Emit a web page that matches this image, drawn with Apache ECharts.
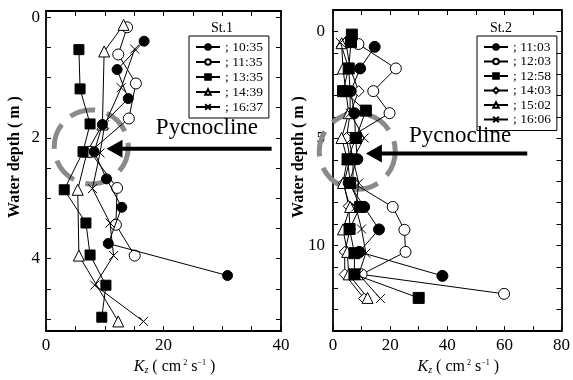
<!DOCTYPE html>
<html><head><meta charset="utf-8">
<script src="https://cdn.jsdelivr.net/npm/echarts@6/dist/echarts.min.js"></script>
<style>html,body{margin:0;padding:0;background:#fff}#c{width:573px;height:380px}</style>
</head><body><div id="c"></div>
<script>
// ---------- St.1 data (depth in m, Kz in cm2/s) ----------
const st1Names = ['10:35','11:35','13:35','14:39','16:37'];
const st1_1035_depth = [0.40,0.87,1.35,1.78,2.23,2.68,3.15,3.75,4.28];
const st1_1035_kz    = [16.7,12.1,14.0,9.6,8.2,10.3,12.9,10.6,30.9];
const st1_1135_depth = [0.17,0.62,1.10,1.68,2.23,2.83,3.44,3.95];
const st1_1135_kz    = [13.8,12.3,15.3,14.1,7.5,12.1,11.9,15.1];
const st1_1335_depth = [0.54,1.19,1.77,2.23,2.86,3.41,3.94,4.44,4.97];
const st1_1335_kz    = [5.6,5.8,7.5,6.3,3.1,6.8,7.5,10.2,9.5];
const st1_1439_depth = [0.13,0.57,1.78,2.23,2.86,3.95,5.04];
const st1_1439_kz    = [13.2,9.9,9.6,7.0,5.4,5.6,12.3];
const st1_1637_depth = [0.53,1.17,1.78,2.25,2.84,3.41,3.95,4.44,5.04];
const st1_1637_kz    = [15.1,12.8,10.0,9.2,7.9,10.9,11.5,8.3,16.6];

// ---------- St.2 data ----------
const st2Names = ['11:03','12:03','12:58','14:03','15:02','16:06'];
const st2_1103_depth = [0.72,1.73,2.79,3.82,4.98,5.97,7.08,8.20,9.25,10.30,11.42];
const st2_1103_kz    = [14.6,9.5,6.2,7.5,7.9,8.5,5.5,10.9,16.1,9.2,38.3];
const st2_1203_depth = [0.59,1.73,2.79,3.82,4.98,5.97,7.08,8.20,9.27,10.30,11.35,12.26];
const st2_1203_kz    = [8.9,22.0,14.1,19.8,5.5,7.0,7.0,20.9,25.0,25.4,10.0,59.9];
const st2_1258_depth = [0.15,0.50,1.73,2.79,3.70,4.98,5.97,7.08,8.20,9.23,10.36,11.35,12.45];
const st2_1258_kz    = [6.6,6.3,5.5,3.5,11.5,8.0,5.1,6.0,9.5,5.8,7.5,7.5,30.0];
const st2_1403_depth = [0.50,1.73,2.79,3.82,4.98,5.97,7.08,8.17,9.25,10.30,11.35,12.48];
const st2_1403_kz    = [4.5,6.0,9.0,6.0,4.7,6.0,3.8,5.5,6.0,4.1,4.1,10.9];
const st2_1502_depth = [0.55,1.73,2.79,3.82,4.98,5.97,7.08,8.20,9.25,10.30,11.35,12.45];
const st2_1502_kz    = [3.0,3.5,4.5,5.5,3.0,5.0,3.5,6.0,3.5,5.0,5.5,12.1];
const st2_1606_depth = [0.52,1.73,2.79,3.82,4.98,5.97,7.08,8.20,9.23,10.36,11.35,12.48];
const st2_1606_kz    = [2.6,5.5,6.0,6.0,10.9,7.0,9.0,8.0,10.0,11.5,9.0,16.6];

// ---------- axis ticks / labels ----------
const st1XLabels = [0,20,40];
const st1YTicks = [0,0.5,1,1.5,2,2.5,3,3.5,4,4.5,5];
const st1YLabels = [0,2,4];
const st2XLabels = [0,20,40,60,80];
const st2YLabels = [0,5,10];

const SERIF = '"Liberation Serif","DejaVu Serif",serif';
const CROSS = 'path://M0 0L10 10M10 0L0 10';

const markers = {
  filled:   {symbol:'circle',  color:'#000', z:4},
  open:     {symbol:'circle',  color:'#fff', z:2},
  square:   {symbol:'rect',    color:'#000', z:4},
  triangle: {symbol:'triangle',color:'#fff', z:2},
  diamond:  {symbol:'diamond', color:'#fff', z:2},
  cross:    {symbol:CROSS,     color:'#000', z:3}
};

function pairs(kz, depth){ return kz.map((v,i)=>[v, depth[i]]); }
function mkSeries(name, kz, depth, mk, grid, size){
  const m = markers[mk];
  return {
    type:'line', name: name, xAxisIndex: grid*2, yAxisIndex: grid*2, z:m.z,
    data: pairs(kz, depth), symbol: m.symbol, symbolSize: size,
    showAllSymbol: true, animation:false,
    lineStyle:{color:'#000', width:1},
    itemStyle:{color:m.color, borderColor:'#000', borderWidth:1, opacity:1},
    emphasis:{disabled:true}
  };
}

const series = [
  mkSeries(st1Names[0], st1_1035_kz, st1_1035_depth, 'filled', 0, 10),
  mkSeries(st1Names[1], st1_1135_kz, st1_1135_depth, 'open', 0, 11),
  mkSeries(st1Names[2], st1_1335_kz, st1_1335_depth, 'square', 0, 10),
  mkSeries(st1Names[3], st1_1439_kz, st1_1439_depth, 'triangle', 0, 11),
  mkSeries(st1Names[4], st1_1637_kz, st1_1637_depth, 'cross', 0, 9),
  mkSeries(st2Names[0], st2_1103_kz, st2_1103_depth, 'filled', 1, 11),
  mkSeries(st2Names[1], st2_1203_kz, st2_1203_depth, 'open', 1, 11),
  mkSeries(st2Names[2], st2_1258_kz, st2_1258_depth, 'square', 1, 11),
  mkSeries(st2Names[3], st2_1403_kz, st2_1403_depth, 'diamond', 1, 11),
  mkSeries(st2Names[4], st2_1502_kz, st2_1502_depth, 'triangle', 1, 11),
  mkSeries(st2Names[5], st2_1606_kz, st2_1606_depth, 'cross', 1, 9)
];

const axLine = {show:true, onZero:false, lineStyle:{color:'#000', width:1.8}};
const tick = (len)=>({show:true, inside:true, length:len, lineStyle:{color:'#000', width:1}});
const kzName = {
  rich:{
    k:{fontFamily:SERIF, fontStyle:'italic', fontSize:16, color:'#000'},
    sub:{fontFamily:SERIF, fontStyle:'italic', fontSize:10, color:'#000', verticalAlign:'bottom', lineHeight:8},
    n:{fontFamily:SERIF, fontSize:16, color:'#000'},
    sup:{fontFamily:SERIF, fontSize:8, color:'#000', verticalAlign:'top', lineHeight:8}
  }
};
const kzText = '{k|K}{sub|z}{n| ( cm}{sup| 2}{n| s}{sup|−1}{n| )}';

function xAxes(grid, max, interval, labels){
  return [{
    gridIndex:grid, type:'value', min:0, max:max, interval:interval, position:'bottom',
    axisLine:axLine, axisTick:tick(5), splitLine:{show:false},
    axisLabel:{show:true, margin:6, fontFamily:SERIF, fontSize:17, color:'#000',
      customValues: labels},
    name: kzText, nameLocation:'middle', nameGap:27,
    nameTextStyle: Object.assign({padding:[0,0,0,22]}, kzName)
  },{
    gridIndex:grid, type:'value', min:0, max:max, interval:interval, position:'top',
    axisLine:axLine, axisTick:tick(5), axisLabel:{show:false}, splitLine:{show:false}
  }];
}
function yAxes(grid, min, max, tickVals, labels, margin){
  return [{
    gridIndex:grid, type:'value', min:min, max:max, inverse:true, position:'left',
    axisLine:axLine, splitLine:{show:false},
    axisTick:Object.assign(tick(5), {customValues: tickVals}),
    axisLabel:{show:true, margin:margin, fontFamily:SERIF, fontSize:17, color:'#000', customValues: labels}
  },{
    gridIndex:grid, type:'value', min:min, max:max, inverse:true, position:'right',
    axisLine:axLine, splitLine:{show:false},
    axisTick:Object.assign(tick(5), {customValues: tickVals}),
    axisLabel:{show:false}
  }];
}
const st2YTicks = [];
for (let i = 0; i <= 14; i++) st2YTicks.push(i);

function legend(names, left, top, gap){
  return {
    data:names, orient:'vertical', left:left, top:top, selectedMode:false,
    itemWidth:24, itemHeight:7, itemGap:gap,
    borderColor:'#000', borderWidth:1, padding:[4,6,4,6], borderRadius:0,
    formatter:'; {name}',
    textStyle:{fontFamily:SERIF, fontSize:13.5, color:'#000', lineHeight:14}
  };
}

const chart = echarts.init(document.getElementById('c'), null, {renderer:'canvas'});
chart.setOption({
  animation:false,
  backgroundColor:'#fff',
  grid:[
    {left:46, top:11, width:235, height:327},
    {left:333, top:10, width:234, height:328}
  ],
  xAxis: [].concat(xAxes(0, 40, 5, st1XLabels), xAxes(1, 80, 10, st2XLabels)),
  yAxis: [].concat(yAxes(0, -0.1, 5.2, st1YTicks, st1YLabels, 6), yAxes(1, -1, 14, st2YTicks, st2YLabels, 8)),
  legend:[ legend(st1Names, 189, 36, 1), legend(st2Names, 477, 36, 0.5) ],
  series: series
});

// ---------- annotations anchored to data coordinates ----------
const ann = [
  {grid:0, circle:[7.7,2.15], r:37, arrowY:2.18, tip:10.3, tail:38.4, textX:18.7, textY:2.03},
  {grid:1, circle:[8.5,5.6],  r:38, arrowY:5.7,  tip:11.5, tail:68.0, textX:26.6, textY:5.4}
];
const g = [];
ann.forEach(a=>{
  const f = {xAxisIndex:a.grid*2, yAxisIndex:a.grid*2};
  const c = chart.convertToPixel(f, a.circle);
  const tip = chart.convertToPixel(f, [a.tip, a.arrowY]);
  const tail = chart.convertToPixel(f, [a.tail, a.arrowY]);
  const tp = chart.convertToPixel(f, [a.textX, a.textY]);
  g.push({type:'circle', shape:{cx:c[0], cy:c[1], r:a.r}, z:1,
    style:{fill:'none', stroke:'#8a8a8a', lineWidth:5, lineDash:[26,12]}});
  g.push({type:'line', shape:{x1:tip[0]+14, y1:tip[1], x2:tail[0], y2:tail[1]}, z:5,
    style:{stroke:'#000', lineWidth:4}});
  g.push({type:'polygon', shape:{points:[[tip[0],tip[1]],[tip[0]+16,tip[1]-9],[tip[0]+16,tip[1]+9]]}, z:5,
    style:{fill:'#000'}});
  g.push({type:'text', x:tp[0], y:tp[1], z:5,
    style:{text:'Pycnocline', fontFamily:SERIF, fontSize:23, fill:'#000', textAlign:'left', textVerticalAlign:'bottom'}});
});
g.push({type:'text', x:15, y:157, rotation:Math.PI/2,
  style:{text:'Water depth ( m )', fontFamily:SERIF, fontWeight:'bold', fontSize:16, fill:'#000', textAlign:'center', textVerticalAlign:'middle'}});
g.push({type:'text', x:299, y:157, rotation:Math.PI/2,
  style:{text:'Water depth ( m )', fontFamily:SERIF, fontWeight:'bold', fontSize:16, fill:'#000', textAlign:'center', textVerticalAlign:'middle'}});
g.push({type:'text', x:222, y:35, style:{text:'St.1', fontFamily:SERIF, fontSize:14, fill:'#000', textAlign:'center', textVerticalAlign:'bottom'}});
g.push({type:'text', x:501, y:35, style:{text:'St.2', fontFamily:SERIF, fontSize:14, fill:'#000', textAlign:'center', textVerticalAlign:'bottom'}});
chart.setOption({graphic: g});
</script></body></html>
